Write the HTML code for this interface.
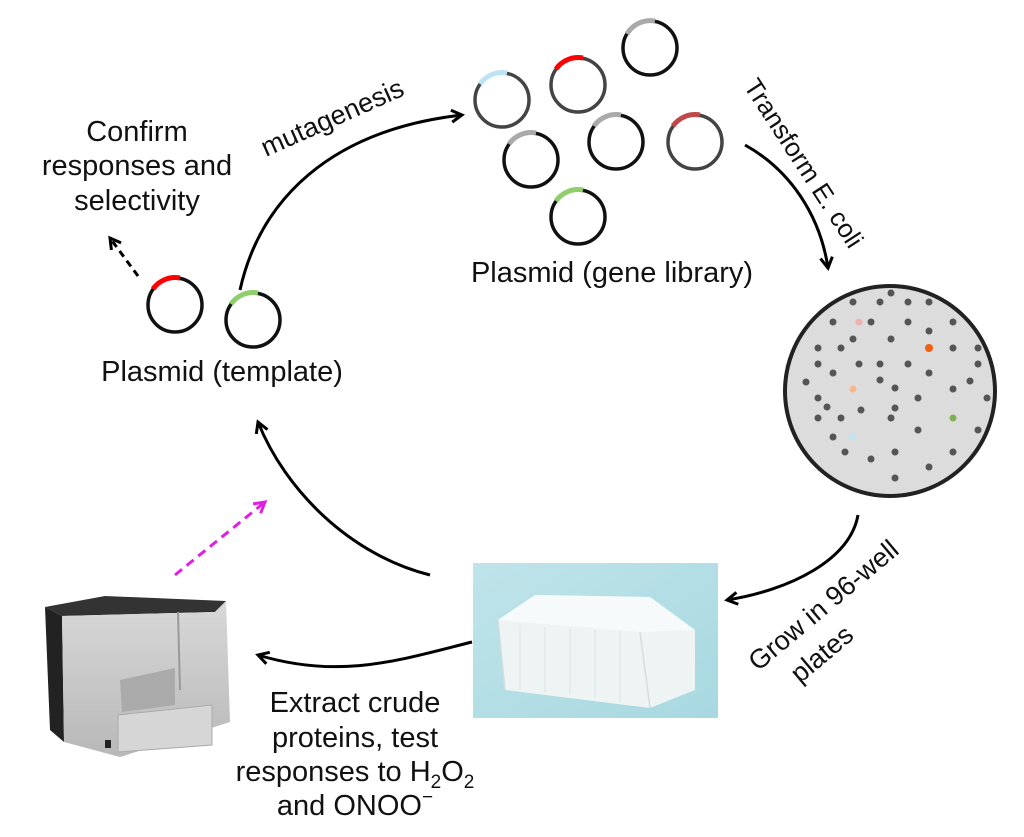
<!DOCTYPE html>
<html><head><meta charset="utf-8"><style>
html,body{margin:0;padding:0;background:#fff;}
svg{display:block}
text{font-family:"Liberation Sans",sans-serif;fill:#111;}
</style></head><body>
<svg width="1024" height="837" viewBox="0 0 1024 837" xmlns="http://www.w3.org/2000/svg">
<defs>
<marker id="ah" viewBox="0 0 10 10" refX="8" refY="5" markerWidth="5" markerHeight="5" orient="auto"><path d="M1,1 L8,5 L1,9" fill="none" stroke="#000" stroke-width="2"/></marker>
<marker id="am" viewBox="0 0 10 10" refX="8" refY="5" markerWidth="5" markerHeight="5" orient="auto"><path d="M1,1 L8,5 L1,9" fill="none" stroke="#e020e0" stroke-width="2"/></marker>
<linearGradient id="bg" x1="0" y1="0" x2="1" y2="1"><stop offset="0" stop-color="#bfe4ea"/><stop offset="1" stop-color="#a8d8e0"/></linearGradient>
<linearGradient id="pf" x1="0" y1="0" x2="0" y2="1"><stop offset="0" stop-color="#d8d8d8"/><stop offset="1" stop-color="#b8b8b8"/></linearGradient>
</defs>

<g fill="none" stroke-width="3.5">
<circle cx="502" cy="100" r="27" stroke="#444"/><path d="M480,84 A27,27 0 0 1 507,73" stroke="#bde4f4" stroke-width="5"/>
<circle cx="578" cy="85" r="27" stroke="#444"/><path d="M556,69 A27,27 0 0 1 583,58" stroke="#f00" stroke-width="5"/>
<circle cx="650" cy="48" r="27" stroke="#111"/><path d="M627,34 A27,27 0 0 1 655,21" stroke="#aaa" stroke-width="5"/>
<circle cx="531" cy="160" r="27" stroke="#111"/><path d="M509,144 A27,27 0 0 1 536,133" stroke="#aaa" stroke-width="5"/>
<circle cx="616" cy="142" r="27" stroke="#111"/><path d="M594,126 A27,27 0 0 1 621,115" stroke="#aaa" stroke-width="5"/>
<circle cx="695" cy="142" r="27" stroke="#444"/><path d="M673,126 A27,27 0 0 1 700,115" stroke="#c04848" stroke-width="5"/>
<circle cx="578" cy="217" r="27" stroke="#111"/><path d="M556,201 A27,27 0 0 1 583,190" stroke="#8fce6a" stroke-width="5"/>
<circle cx="175" cy="305" r="27" stroke="#111"/><path d="M153,289 A27,27 0 0 1 180,278" stroke="#f00" stroke-width="5"/>
<circle cx="253" cy="320" r="27" stroke="#111"/><path d="M231,304 A27,27 0 0 1 258,293" stroke="#8fce6a" stroke-width="5"/>
</g>

<circle cx="890" cy="391" r="105" fill="#dcdcdc" stroke="#222" stroke-width="4"/>
<g fill="#555">
<circle cx="891" cy="293" r="3.5"/><circle cx="853" cy="302" r="3.5"/><circle cx="880" cy="302" r="3.5"/><circle cx="908" cy="302" r="3.5"/><circle cx="929" cy="302" r="3.5"/>
<circle cx="833" cy="322" r="3.5"/><circle cx="871" cy="322" r="3.5"/><circle cx="908" cy="322" r="3.5"/><circle cx="953" cy="322" r="3.5"/>
<circle cx="929" cy="331" r="3.5"/><circle cx="853" cy="339" r="3.5"/><circle cx="891" cy="339" r="3.5"/>
<circle cx="818" cy="348" r="3.5"/><circle cx="841" cy="348" r="3.5"/><circle cx="953" cy="348" r="3.5"/><circle cx="978" cy="348" r="3.5"/>
<circle cx="818" cy="364" r="3.5"/><circle cx="859" cy="364" r="3.5"/><circle cx="880" cy="364" r="3.5"/><circle cx="908" cy="364" r="3.5"/><circle cx="978" cy="364" r="3.5"/>
<circle cx="833" cy="373" r="3.5"/><circle cx="929" cy="373" r="3.5"/>
<circle cx="806" cy="382" r="3.5"/><circle cx="880" cy="380" r="3.5"/><circle cx="970" cy="381" r="3.5"/>
<circle cx="895" cy="388" r="3.5"/><circle cx="953" cy="389" r="3.5"/>
<circle cx="818" cy="398" r="3.5"/><circle cx="918" cy="398" r="3.5"/><circle cx="987" cy="398" r="3.5"/>
<circle cx="827" cy="407" r="3.5"/><circle cx="861" cy="410" r="3.5"/><circle cx="895" cy="408" r="3.5"/>
<circle cx="818" cy="418" r="3.5"/><circle cx="841" cy="418" r="3.5"/><circle cx="891" cy="418" r="3.5"/>
<circle cx="918" cy="430" r="3.5"/><circle cx="978" cy="430" r="3.5"/><circle cx="833" cy="437" r="3.5"/>
<circle cx="845" cy="452" r="3.5"/><circle cx="895" cy="452" r="3.5"/><circle cx="953" cy="452" r="3.5"/>
<circle cx="871" cy="459" r="3.5"/><circle cx="929" cy="467" r="3.5"/><circle cx="895" cy="478" r="3.5"/>
</g>
<circle cx="859" cy="322" r="3.5" fill="#f0b0b0"/><circle cx="929" cy="348" r="4" fill="#f06010"/>
<circle cx="853" cy="389" r="3.5" fill="#f8b888"/><circle cx="953" cy="418" r="3.5" fill="#80b050"/>
<circle cx="853" cy="437" r="3.5" fill="#bfe4f4"/>

<rect x="473" y="563" width="245" height="155" fill="url(#bg)"/>
<path d="M498,620 L535,595 L650,597 L695,630 L695,690 L650,708 L505,690 Z" fill="#eef3f4"/>
<path d="M498,620 L640,632 L695,630 L650,597 L535,595 Z" fill="#f7fafa"/>
<path d="M640,632 L650,708 M498,620 L505,690" stroke="#d4dde0" stroke-width="1.5" fill="none"/>
<g stroke="#dde6e8" stroke-width="1"><path d="M520,625 V690 M545,627 V692 M570,629 V695 M595,630 V698 M620,631 V702"/></g>

<path d="M45,607 L105,596 L226,601 L215,612 L62,616 Z" fill="#333"/>
<path d="M45,607 L62,616 L64,742 L50,730 Z" fill="#222"/>
<path d="M62,616 L215,612 L226,601 L230,722 L120,757 L64,742 Z" fill="url(#pf)"/>
<path d="M178,612 L180,690" stroke="#999" stroke-width="2"/>
<path d="M120,680 L175,668 L175,705 L122,712 Z" fill="#aaa"/>
<path d="M118,715 L212,705 L212,745 L118,752 Z" fill="#d6d6d6" stroke="#aaa"/>
<rect x="105" y="740" width="6" height="8" fill="#222"/>

<g fill="none" stroke="#000" stroke-width="3">
<path d="M240,290 C260,200 330,130 462,115" marker-end="url(#ah)"/>
<path d="M745,145 C790,170 820,215 828,268" marker-end="url(#ah)"/>
<path d="M858,515 C850,560 790,590 727,600" marker-end="url(#ah)"/>
<path d="M472,642 C400,660 340,680 258,655" marker-end="url(#ah)"/>
<path d="M430,575 C350,555 285,490 258,422" marker-end="url(#ah)"/>
<path d="M138,276 L110,238" stroke-dasharray="7,5" marker-end="url(#ah)"/>
</g>
<path d="M175,575 L265,502" fill="none" stroke="#e020e0" stroke-width="3" stroke-dasharray="9,6" marker-end="url(#am)"/>

<g font-size="29" text-anchor="middle">
<text x="137" y="141">Confirm</text>
<text x="137" y="175">responses and</text>
<text x="137" y="210">selectivity</text>
<text x="612" y="282">Plasmid (gene library)</text>
<text x="222" y="381">Plasmid (template)</text>
<text x="355" y="712">Extract crude</text>
<text x="355" y="747">proteins, test</text>
<text x="355" y="781">responses to H<tspan font-size="19" dy="7">2</tspan><tspan dy="-7">O</tspan><tspan font-size="19" dy="7">2</tspan></text>
<text x="355" y="815">and ONOO<tspan font-size="19" dy="-12">−</tspan></text>
</g>
<text x="0" y="0" font-size="27" transform="translate(266,157) rotate(-24)">mutagenesis</text>
<text x="0" y="0" font-size="26" transform="translate(743,86) rotate(57)">Transform E. coli</text>
<text x="0" y="0" font-size="27" transform="translate(758,672) rotate(-40)">Grow in 96-well</text>
<text x="0" y="0" font-size="27" transform="translate(800,684) rotate(-40)">plates</text>
</svg>
</body></html>
